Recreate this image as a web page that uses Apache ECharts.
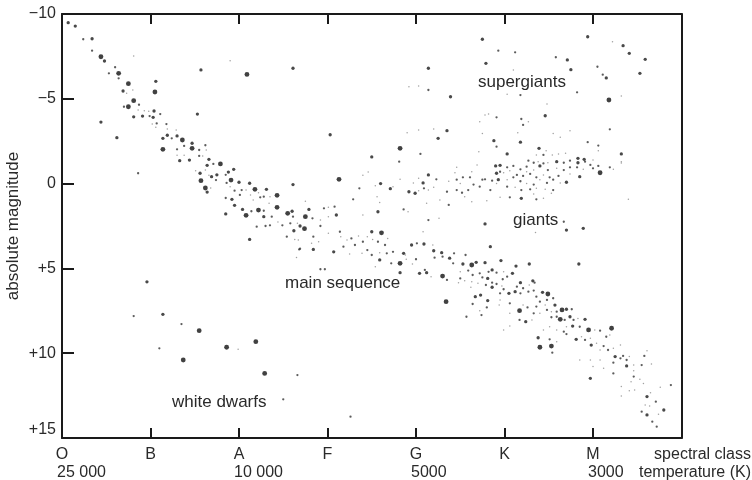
<!DOCTYPE html>
<html>
<head>
<meta charset="utf-8">
<script src="https://cdn.jsdelivr.net/npm/echarts@6/dist/echarts.min.js"></script>
<style>html,body{margin:0;padding:0;background:#fff}#chart{width:752px;height:480px}</style>
</head>
<body>
<div id="chart"></div>
<script>
// Spectral class tick labels (x = 0..6) and temperature labels under them
const spectralClasses = ['O','B','A','F','G','K','M'];
const temperatureLabels = ['25 000','','10 000','','5000','','3000'];
const magnitudeTicks = [-10,-5,0,5,10,15];

// Stars: [spectral position, absolute magnitude]
const brightStars = [
[0.44,-7.48],[0.64,-6.50],[0.75,-5.89],[0.81,-4.89],[0.75,-4.53],[1.36,-2.57],[1.14,-2.02],[1.47,-2.08],[1.79,-1.16],[1.57,-0.17],
[1.62,0.26],[1.91,-0.21],[2.18,0.34],[2.43,0.69],[2.43,1.40],[2.22,1.56],[2.08,1.87],[2.55,1.75],[2.75,1.95],[2.74,2.66],
[1.05,-5.40],[2.09,-6.44],[3.82,-2.08],[6.18,-4.93],[6.08,-0.64],[3.13,-0.25],[3.61,2.90],[3.82,4.70],
[4.30,5.45],[4.63,4.80],[4.34,6.96],[5.17,7.49],[5.49,6.51],[5.65,7.45],[5.63,8.00],[5.95,8.63],[6.21,8.53],[5.40,9.65],[5.53,9.58],
[1.55,8.67],[1.37,10.40],[1.86,9.65],[2.19,9.32],[2.29,11.19]
];
const mediumStars = [
[0.07,-9.49],[0.15,-9.29],[0.34,-8.54],[0.48,-7.23],[0.69,-5.46],[0.81,-3.94],[0.91,-3.98],[1.04,-4.28],[1.03,-3.91],[1.19,-2.85],
[1.14,-2.67],[1.30,-2.81],[1.47,-2.38],[1.33,-1.35],[1.44,-1.39],[1.66,-1.43],[1.64,-1.08],[1.56,-0.61],[1.69,-0.41],[1.75,-0.52],
[1.64,0.50],[1.88,-0.68],[1.94,-0.84],[1.92,0.93],[2.00,-0.08],[2.12,-0.02],[2.31,0.34],[2.04,1.52],[1.95,1.28],[1.85,1.79],
[2.28,1.95],[2.60,1.63],[2.79,1.52],[2.61,0.06],[2.69,2.50],[2.62,2.78],[2.12,3.29],
[0.44,-3.63],[0.62,-2.71],[1.06,-6.03],[1.53,-4.10],[1.57,-6.70],[2.61,-6.80],
[4.14,-6.80],[3.03,-2.88],[3.50,-1.57],
[4.39,-5.12],[4.75,-8.51],[4.79,-7.09],[5.71,-7.29],[5.75,-6.72],[5.94,-8.66],[6.15,-6.23],[6.34,-8.13],[6.41,-7.68],[6.59,-7.33],
[6.53,-6.50],[5.46,-4.00],[6.32,-1.75],[5.18,-2.44],[4.88,-2.53],[5.03,-1.75],[4.35,-3.12],[4.25,-2.67],[5.39,-2.08],[5.83,-1.49],[5.90,-1.43],
[5.59,-1.29],[5.83,-1.23],[5.40,-1.04],[4.95,-1.08],[4.90,-1.04],[4.91,-0.61],[5.70,-0.08],[4.93,-0.23],[5.19,0.87],[4.14,-0.51],
[4.08,-0.04],[3.99,0.57],[3.92,0.48],[3.71,0.30],[3.60,0.00],[3.57,1.66],[4.78,2.38],[5.70,2.74],[5.89,2.64],
[3.10,1.85],[2.84,3.88],[3.07,4.02],[3.50,2.84],[3.59,4.50],
[3.86,4.11],[3.95,3.62],[4.09,3.56],[4.20,3.96],[4.29,4.07],[4.38,4.40],[3.82,5.25],[4.04,5.29],[4.12,5.25],[4.53,4.74],
[4.68,4.64],[4.78,4.66],[4.84,3.72],[4.96,4.54],[5.13,4.86],[5.28,4.74],[5.84,4.74],[4.86,5.09],[5.09,5.29],[4.81,5.59],
[4.86,6.11],[4.73,6.57],[4.81,6.90],[5.05,6.47],[5.12,6.37],[4.67,6.67],[5.24,8.14],[5.18,5.84],[5.32,5.73],[5.43,6.41],
[5.57,7.16],[5.70,7.41],[5.74,7.85],[5.77,8.40],[5.91,8.00],[5.81,9.18],[5.98,9.52],[6.25,10.20],[6.38,10.75],[5.97,11.48],
[6.61,12.56],[6.61,13.64],[6.80,13.35],[5.38,9.09],
[0.96,5.79],[5.85,-0.41],[1.14,7.71]
];
const smallStars = [
[0.24,-8.51],[0.34,-7.84],[0.60,-6.86],[0.53,-6.50],[0.64,-6.21],[0.70,-4.53],[0.87,-4.65],[0.99,-3.98],[1.11,-4.10],[1.07,-3.55],
[1.18,-3.51],[1.24,-2.67],[1.38,-2.22],[1.30,-2.02],[1.55,-1.98],[1.62,-2.26],[1.55,-1.63],[1.71,-1.16],[1.74,-0.21],[1.85,-0.52],
[1.86,-0.04],[1.85,0.85],[1.95,0.42],[2.03,0.38],[2.01,0.67],[2.24,0.81],[2.28,0.77],[2.14,1.63],[2.37,1.95],[2.28,1.60],
[2.61,1.95],[2.49,2.46],[2.58,2.34],[2.54,3.13],[2.20,2.54],[2.30,2.50],[2.35,2.46],[2.69,3.84],
[0.86,-0.61],[4.14,-5.52],[4.05,-1.75],
[4.93,-7.84],[5.12,-7.74],[5.18,-5.22],[5.58,-7.45],[6.05,-6.89],[6.11,-6.42],[5.82,-5.38],[6.19,-3.20],[5.94,-2.44],[6.06,-2.24],
[5.19,-3.81],[5.21,-3.46],[4.91,-3.91],[4.91,-2.18],[5.44,-1.69],[6.19,-0.96],
[5.27,-1.35],[5.33,-1.23],[5.44,-1.19],[5.67,-1.23],[5.74,-1.35],[5.91,-1.29],[5.97,-1.10],[6.06,-1.04],[5.82,-0.96],[5.74,-0.96],
[5.67,-0.80],[5.49,-0.80],[5.25,-1.00],[5.18,-0.84],[5.10,-1.04],[5.03,-0.96],[4.95,-0.70],[5.14,-0.51],[5.21,-0.45],[5.29,-0.57],
[5.36,-0.37],[5.51,-0.37],[5.61,-0.45],[5.55,-0.23],[5.48,-0.04],[5.33,0.06],[5.18,-0.14],[5.10,-0.37],[4.86,-0.17],[4.78,-0.25],
[5.03,0.18],[5.19,0.38],[5.29,0.34],[5.55,0.38],[5.36,0.93],[5.06,0.81],[4.84,0.38],[4.72,0.18],[4.75,-0.23],[4.65,0.06],
[4.59,0.38],[4.61,-0.37],[4.53,-0.37],[4.46,-0.23],[4.46,0.38],[4.52,0.54],[4.35,0.48],[4.37,1.26],[4.23,-0.25],[4.09,0.28],
[3.36,0.28],[3.29,0.93],[3.86,1.52],[4.14,2.15],[5.67,2.25],
[2.96,1.46],[3.08,1.36],[2.92,2.50],[2.84,3.13],[3.14,2.84],[3.27,3.23],[3.40,3.43],[3.57,3.43],[3.65,3.62],[3.31,3.62],
[3.45,3.92],[3.18,3.72],[3.50,4.21],[3.67,4.11],[3.74,4.02],[3.72,4.70],[2.97,5.05],[2.92,5.05],
[4.01,3.52],[4.43,4.11],[4.30,4.31],[4.21,4.37],[4.00,4.46],[4.10,5.09],[4.35,5.68],[4.42,4.70],[4.56,4.21],[4.59,5.13],
[4.64,5.39],[4.72,5.29],[4.75,5.53],[4.82,5.20],[4.91,5.25],[5.03,5.49],[4.98,5.64],[4.86,5.84],[4.91,5.92],[4.79,5.98],
[4.50,5.59],[4.95,6.47],[5.18,6.47],[4.99,6.23],[4.57,7.85],[4.74,7.75],[4.80,7.30],[5.06,7.06],[5.26,7.30],[5.21,6.17],
[5.14,6.08],[5.27,6.37],[5.34,5.84],[5.33,6.31],[5.36,6.67],[5.40,6.96],[5.48,6.86],[5.55,6.76],[5.36,7.25],[5.33,7.65],
[5.48,7.45],[5.59,7.55],[5.76,7.41],[5.68,8.04],[5.59,7.85],[5.53,7.88],[5.78,8.04],[5.85,8.44],[6.08,8.67],[6.15,9.03],
[5.67,8.73],[5.70,8.87],[5.91,9.22],[6.12,9.58],[6.17,9.81],[6.34,10.16],[6.31,10.30],[6.23,10.56],[6.38,10.40],[6.23,11.19],
[6.46,11.38],[6.58,10.16],[6.55,10.70],[6.88,11.88],[6.71,12.86],[6.55,13.45],[6.67,14.04],[6.72,14.33],[5.54,9.97],[5.51,9.18],[5.17,8.04],
[4.64,7.10],[3.81,-1.29],[2.83,2.05],[2.68,3.88],[6.00,-0.90],
[0.81,7.81],[1.35,8.28],[1.10,9.71],[2.66,11.29],[2.50,12.72],[3.26,13.74]
];
const faintStars = [
[0.81,-7.52],[0.80,-5.52],[0.73,-5.32],[0.86,-4.34],[0.93,-4.30],[0.98,-4.26],[1.02,-3.51],[1.06,-3.32],[1.19,-3.22],[1.29,-3.16],
[1.38,-1.67],[1.63,-1.98],[1.30,-1.67],[1.59,-1.63],[1.51,-0.76],[1.62,-0.80],[1.66,-0.49],[1.68,0.26],[1.90,0.18],[2.08,0.38],
[2.13,0.67],[2.16,0.97],[2.22,0.54],[2.35,0.77],[2.34,1.16],[2.75,1.04],[2.44,2.26],[2.66,2.34],[2.63,3.29],[2.67,3.33],
[1.90,-7.25],[3.92,-5.71],[4.03,-5.75],[3.90,-3.00],[4.03,-3.16],
[5.10,-6.70],[5.03,-5.27],[6.22,-8.37],[6.32,-5.17],[5.48,-4.69],[6.06,-1.94],[5.74,-3.12],[5.55,-2.96],[5.63,-2.73],[5.15,-3.00],
[5.27,-3.65],[4.78,-4.04],[4.82,-4.10],[4.72,-3.65],[4.75,-2.96],[4.71,-1.88],[4.20,-3.22],[5.36,-1.69],[5.54,-1.69],[5.61,-1.75],[5.69,-1.79],
[6.23,-0.84],[6.32,-1.29],[6.40,0.93],
[5.47,-1.94],[5.38,-1.29],[5.49,-1.23],[6.00,-1.39],[5.89,-0.84],[5.59,-0.90],[5.33,-0.80],[4.99,-0.64],[5.06,-0.76],[5.44,-0.51],
[5.63,-0.04],[5.40,-0.23],[5.25,0.00],[5.03,-0.23],[4.91,0.00],[5.12,0.22],[5.36,0.28],[5.46,0.34],[5.33,0.61],[5.44,0.87],
[4.95,0.81],[4.50,0.00],[4.55,0.77],[4.46,-0.96],[4.44,-0.64],[4.63,-0.70],[4.69,-1.10],[4.37,-0.14],[4.27,0.97],[4.20,0.22],
[4.14,0.38],[4.03,0.42],[3.97,-0.04],[4.03,-0.31],[3.82,-0.25],[3.74,0.18],[3.54,0.12],[3.40,-0.49],[3.46,-0.68],[3.56,0.77],
[3.59,1.12],[3.91,1.66],[4.12,1.16],[3.40,1.85],[4.26,2.05],[4.08,2.84],[5.35,2.89],
[3.01,1.95],[2.90,3.43],[2.82,3.52],[3.01,2.93],[3.15,3.13],[3.22,3.33],[3.35,3.09],[3.45,3.13],[3.51,3.29],[3.68,3.23],
[3.39,4.11],[3.25,4.15],[3.59,4.07],[3.54,4.90],
[4.19,3.62],[4.17,5.49],[4.50,5.20],[4.99,5.20],[4.97,6.04],[4.70,5.88],[4.63,5.78],[4.55,5.73],[4.48,5.84],[4.62,6.11],
[4.95,6.86],[4.72,7.49],[4.94,7.16],[5.06,7.65],[5.21,7.16],[5.31,8.04],[5.28,5.98],[5.46,7.16],[5.40,7.65],[5.53,7.55],
[5.83,7.95],[5.70,8.44],[6.02,8.63],[6.19,8.93],[5.51,8.44],[5.59,8.63],[5.87,9.03],[5.97,9.12],[6.04,9.42],[6.08,9.81],
[6.23,9.71],[6.31,9.52],[6.41,10.20],[6.46,10.70],[6.12,10.89],[6.08,10.40],[5.97,10.40],[6.00,10.79],[6.61,9.85],[6.66,10.64],
[6.46,11.03],[6.43,11.68],[6.53,11.54],[6.32,11.97],[6.32,12.52],[6.41,12.21],[6.47,12.17],[6.57,11.78],[6.76,12.01],[6.65,12.33],
[6.59,13.06],[6.64,13.11],[6.74,13.60],[5.85,10.40],[5.59,9.32],[5.44,8.63],[3.88,4.21],[3.89,4.46],[3.96,4.74],[4.99,8.63],[5.06,8.40],
[2.92,2.15],[3.01,1.40],[2.65,4.35],[6.32,-1.21],[5.53,0.57],[4.80,1.01],[4.63,1.07],[5.74,-0.57],[5.25,-0.70],[1.99,9.77]
];

const FONT = '"Liberation Sans", Arial, Helvetica, sans-serif';
const TXT = '#2a2a2a';
const AX = '#1a1a1a';

const chart = echarts.init(document.getElementById('chart'), null, {renderer:'canvas'});

function magLabel(v){
  if (v === 15) return '{up|+15}';
  if (v < 0) return '\u2212' + Math.abs(v);
  if (v > 0) return '+' + v;
  return '0';
}

const commonX = {
  type:'value', min:0, max:7, interval:1,
  splitLine:{show:false},
  axisLine:{show:true, onZero:false, lineStyle:{color:AX, width:2}},
  axisTick:{show:true, inside:true, length:10, lineStyle:{color:AX, width:2}}
};

chart.setOption({
  animation:false,
  backgroundColor:'#fff',
  grid:{left:62, right:70.5, top:14, bottom:42, containLabel:false, outerBoundsMode:'none'},
  xAxis:[
    Object.assign({}, commonX, {
      position:'bottom',
      axisLabel:{show:true, margin:9, fontSize:16, fontFamily:FONT, color:TXT,
        alignMinLabel:'center', alignMaxLabel:'center', hideOverlap:false,
        formatter:function(v){ return spectralClasses[v] || ''; }}
    }),
    Object.assign({}, commonX, {position:'top', axisLabel:{show:false}})
  ],
  yAxis:[
    {
      type:'value', inverse:true, min:-10, max:15, interval:5, position:'left',
      splitLine:{show:false},
      axisLine:{show:true, onZero:false, lineStyle:{color:AX, width:2}},
      axisTick:{show:true, inside:true, length:12, lineStyle:{color:AX, width:2}},
      axisLabel:{margin:6, fontSize:16, fontFamily:FONT, color:TXT, formatter:magLabel, hideOverlap:false,
        rich:{up:{fontSize:16, fontFamily:FONT, color:TXT, padding:[0,0,16,0]}}},
      name:'absolute magnitude', nameLocation:'middle', nameGap:40, nameRotate:90, nameMoveOverlap:false,
      nameTextStyle:{fontSize:17, fontFamily:FONT, color:TXT}
    },
    {
      type:'value', inverse:true, min:-10, max:15, position:'right',
      splitLine:{show:false},
      axisLine:{show:true, onZero:false, lineStyle:{color:AX, width:2}},
      axisTick:{show:false}, axisLabel:{show:false}
    }
  ],
  series:[
    {type:'scatter', name:'faint', data:faintStars, symbolSize:1.5, itemStyle:{color:'#8a8a8a'}, silent:true},
    {type:'scatter', name:'small', data:smallStars, symbolSize:2.3, itemStyle:{color:'#333'}, silent:true},
    {type:'scatter', name:'medium', data:mediumStars, symbolSize:3.3, itemStyle:{color:'#1c1c1c'}, silent:true},
    {type:'scatter', name:'bright', data:brightStars, symbolSize:4.8, itemStyle:{color:'#111'}, silent:true}
  ]
});

// Temperature labels under the spectral classes, plus region annotations
const graphics = [];
temperatureLabels.forEach(function(t, i){
  if (!t) return;
  const px = chart.convertToPixel({xAxisIndex:0}, i);
  graphics.push({type:'text', left:px - 5, top:465, silent:true,
    style:{text:t, font:'16px ' + FONT, fill:TXT}});
});
graphics.push({type:'text', right:1, top:447, silent:true, style:{text:'spectral class', font:'16px ' + FONT, fill:TXT}});
graphics.push({type:'text', right:1, top:465, silent:true, style:{text:'temperature (K)', font:'16px ' + FONT, fill:TXT}});
graphics.push({type:'text', left:478, top:74, silent:true, style:{text:'supergiants', font:'17px ' + FONT, fill:TXT}});
graphics.push({type:'text', left:513, top:212, silent:true, style:{text:'giants', font:'17px ' + FONT, fill:TXT}});
graphics.push({type:'text', left:285, top:275, silent:true, style:{text:'main sequence', font:'17px ' + FONT, fill:TXT}});
graphics.push({type:'text', left:172, top:394, silent:true, style:{text:'white dwarfs', font:'17px ' + FONT, fill:TXT}});
chart.setOption({graphic:graphics});
</script>
</body>
</html>
